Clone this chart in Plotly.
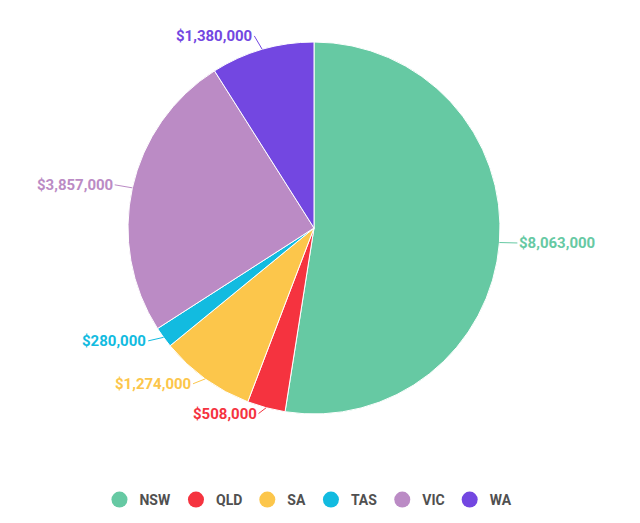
import math

import plotly.graph_objects as go

states = ["NSW", "QLD", "SA", "TAS", "VIC", "WA"]
amounts = [8063000, 508000, 1274000, 280000, 3857000, 1380000]
colors = ["#66C9A3", "#F5333F", "#FCC64B", "#12BBE0", "#BB8BC5", "#7347E1"]

W, H = 640, 523
CX, CY, R = 314, 228, 186  # pie centre / radius in pixels

fig = go.Figure()
fig.add_trace(go.Pie(
    labels=states, values=amounts, sort=False, direction="clockwise", rotation=0,
    marker=dict(colors=colors, line=dict(color="white", width=1)),
    textinfo="none", hoverinfo="label+value", showlegend=False,
    domain=dict(x=[(CX - R) / W, (CX + R) / W], y=[1 - (CY + R) / H, 1 - (CY - R) / H]),
))

# outside labels with leader lines
total = sum(amounts)
cum = 0
for name, val, col in zip(states, amounts, colors):
    mid = (cum + val / 2) / total * 2 * math.pi
    cum += val
    s, c = math.sin(mid), math.cos(mid)
    ex, ey = CX + R * s, CY - R * c
    dx = 14 * s + (4 if s > 0 else -4)
    dy = -14 * c if c > 0 else -6 * c
    fig.add_annotation(
        x=ex / W, y=1 - ey / H, xref="paper", yref="paper",
        ax=dx, ay=dy, showarrow=True, arrowhead=0, arrowwidth=1, arrowcolor=col,
        standoff=0, xanchor="left" if s > 0 else "right", yanchor="middle",
        text=f"${val:,}", font=dict(family="Roboto", size=15, color=col, weight="bold"),
    )

# legend with round markers
for name, col in zip(states, colors):
    fig.add_trace(go.Scatter(
        x=[None], y=[None], mode="markers", name=name,
        marker=dict(color=col, size=18, symbol="circle"),
    ))

fig.update_xaxes(visible=False)
fig.update_yaxes(visible=False)
fig.update_layout(
    width=W, height=H,
    margin=dict(l=0, r=0, t=0, b=0),
    paper_bgcolor="white", plot_bgcolor="white",
    font=dict(family="Roboto", size=13, color="#444"),
    legend=dict(orientation="h", x=0.482, xanchor="center", y=0.044, yanchor="middle",
                font=dict(size=14, color="#505050", weight="bold"), itemwidth=30),
)
fig.write_html("out.html", config={"displayModeBar": False},
               post_script="document.body.style.margin='0';")
